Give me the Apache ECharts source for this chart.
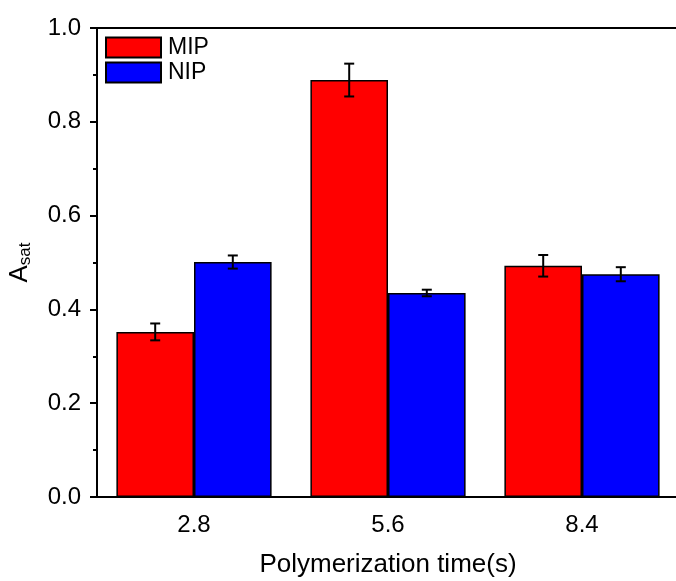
<!DOCTYPE html>
<html>
<head>
<meta charset="utf-8">
<script src="https://cdn.jsdelivr.net/npm/echarts@6/dist/echarts.min.js"></script>
<style>
  html, body { margin: 0; padding: 0; background: #fff; overflow: hidden; }
  #chart { width: 690px; height: 581px; }
</style>
</head>
<body>
<div id="chart"></div>
<script>
// datos
const categorias = ['2.8', '5.6', '8.4'];
const mip = [0.352, 0.889, 0.493];
const mipErr = [0.018, 0.035, 0.023];
const nip = [0.501, 0.435, 0.475];
const nipErr = [0.014, 0.007, 0.015];

const fuente = 'Liberation Sans, Arial, sans-serif';

// barras de error: offset = -1 para MIP, +1 para NIP
function errorBars(valores, errores, offset) {
  return {
    type: 'custom',
    z: 10,
    silent: true,
    data: valores.map((v, i) => [i, v, errores[i]]),
    renderItem: function (params, api) {
      const i = api.value(0);
      const v = api.value(1);
      const e = api.value(2);
      const band = api.size([1, 0])[0];
      const dx = offset * band * 0.2;
      const top = api.coord([i, v + e]);
      const bot = api.coord([i, v - e]);
      const x = top[0] + dx;
      const cap = 5;
      const estilo = { stroke: '#000', lineWidth: 2 };
      return {
        type: 'group',
        children: [
          { type: 'line', shape: { x1: x, y1: top[1], x2: x, y2: bot[1] }, style: estilo },
          { type: 'line', shape: { x1: x - cap, y1: top[1], x2: x + cap, y2: top[1] }, style: estilo },
          { type: 'line', shape: { x1: x - cap, y1: bot[1], x2: x + cap, y2: bot[1] }, style: estilo }
        ]
      };
    }
  };
}

const opciones = {
  animation: false,
  // el borde derecho queda fuera de la ventana, como en el original
  grid: {
    left: 97, top: 28, right: 11, bottom: 84,
    outerBoundsMode: 'none',
    show: true, borderColor: '#000', borderWidth: 2, backgroundColor: 'transparent'
  },
  legend: {
    orient: 'vertical',
    left: 100, top: 31,
    itemWidth: 55, itemHeight: 20, itemGap: 2,
    icon: 'rect',
    textStyle: { fontFamily: fuente, fontSize: 23, color: '#000', padding: [0, 0, 0, 2] },
    data: ['MIP', 'NIP']
  },
  xAxis: [
    {
      type: 'category',
      data: categorias,
      name: 'Polymerization time(s)',
      nameLocation: 'middle',
      nameGap: 55,
      nameTextStyle: { fontFamily: fuente, fontSize: 26, color: '#000' },
      axisLine: { lineStyle: { color: '#000', width: 2 } },
      axisTick: { alignWithLabel: true, length: 7, lineStyle: { color: '#000', width: 2 } },
      axisLabel: { fontFamily: fuente, fontSize: 24, color: '#000', margin: 16 }
    },
    {
      // ticks menores en los limites de cada categoria
      type: 'category',
      data: categorias,
      position: 'bottom',
      axisLine: { show: false },
      axisTick: { length: 4, lineStyle: { color: '#000', width: 2 } },
      axisLabel: { show: false }
    }
  ],
  yAxis: {
    type: 'value',
    min: 0, max: 1, interval: 0.2,
    name: '{a|A}{s|sat}',
    nameLocation: 'middle',
    nameRotate: 90,
    nameGap: 63,
    nameTextStyle: {
      rich: {
        a: { fontFamily: fuente, fontSize: 26, color: '#000' },
        s: { fontFamily: fuente, fontSize: 17, color: '#000', verticalAlign: 'bottom', padding: [12, 0, 0, 0] }
      }
    },
    axisLine: { show: true, lineStyle: { color: '#000', width: 2 } },
    axisTick: { show: true, length: 7, lineStyle: { color: '#000', width: 2 } },
    minorTick: { show: true, splitNumber: 2, length: 4, lineStyle: { color: '#000', width: 2 } },
    splitLine: { show: false },
    axisLabel: {
      fontFamily: fuente, fontSize: 24, color: '#000', margin: 16,
      formatter: v => v.toFixed(1)
    }
  },
  series: [
    {
      name: 'MIP', type: 'bar', data: mip,
      barGap: '0%', barCategoryGap: '20%',
      itemStyle: { color: '#ff0000', borderColor: '#000', borderWidth: 1.5 }
    },
    {
      name: 'NIP', type: 'bar', data: nip,
      barGap: '0%', barCategoryGap: '20%',
      itemStyle: { color: '#0000ff', borderColor: '#000', borderWidth: 1.5 }
    },
    errorBars(mip, mipErr, -1),
    errorBars(nip, nipErr, 1)
  ]
};

const miGrafico = echarts.init(document.getElementById('chart'));
miGrafico.setOption(opciones);
</script>
</body>
</html>
